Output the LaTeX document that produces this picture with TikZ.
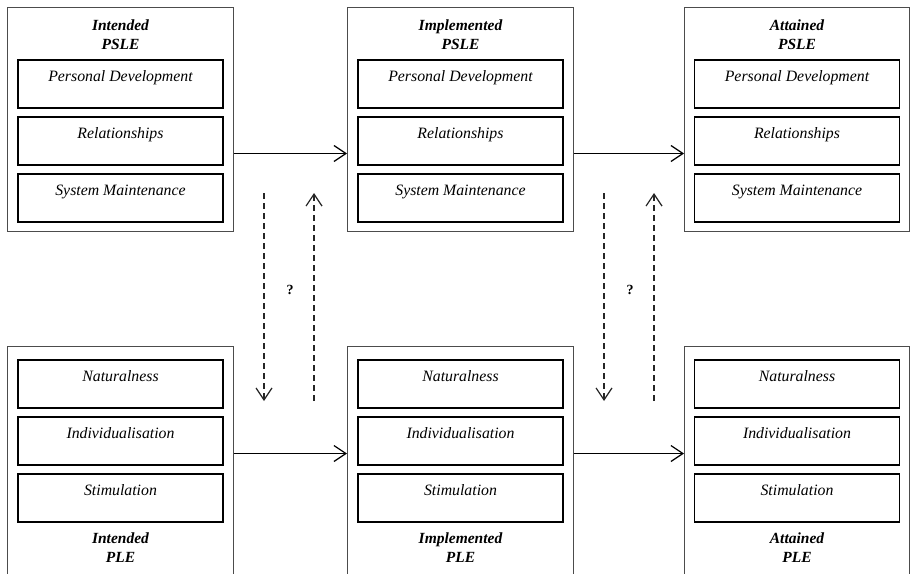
\documentclass[tikz,border=0pt]{standalone}
\usepackage{fontspec}
\setmainfont{Liberation Serif}
\usetikzlibrary{positioning, arrows.meta}

\begin{document}
\begin{tikzpicture}[
  x=1pt, y=-1pt,
  node distance=7pt,
  outer/.style={rectangle, draw=black!70, line width=1pt, minimum width=226pt, anchor=north west},
  dim/.style={rectangle, draw, line width=1.9pt, minimum width=205pt, inner ysep=3pt, text height=19pt, text depth=23pt, font=\fontsize{15.8}{18}\selectfont\itshape},
  title/.style={inner sep=0pt, align=center, font=\fontsize{15.5}{19}\selectfont\bfseries\itshape},
  arr/.style={-{Straight Barb[length=12pt, width=16pt]}, line width=1.2pt},
  darr/.style={-{Straight Barb[length=12pt, width=16pt]}, line width=1.2pt, draw=black!85, dash pattern=on 6pt off 4pt},
  qmark/.style={font=\fontsize{14}{16}\selectfont\bfseries}
]
\useasboundingbox (0,0) rectangle (910,573);

% PSLE row
\node[outer, minimum height=224pt] (ipsle) at (7,7) {};
\node[outer, minimum height=224pt] (mpsle) at (347,7) {};
\node[outer, minimum height=224pt, minimum width=225pt] (apsle) at (684,7) {};

\node[title, below=13pt of ipsle.north] (ipslet) {Intended\\PSLE};
\node[title, below=13pt of mpsle.north] (mpslet) {Implemented\\PSLE};
\node[title, below=13pt of apsle.north] (apslet) {Attained\\PSLE};

\node[dim, below=52pt of ipsle.north] (ipd) {Personal Development};
\node[dim, below=of ipd] (irel) {Relationships};
\node[dim, below=of irel] (isys) {System Maintenance};

\node[dim, below=52pt of mpsle.north] (mpd) {Personal Development};
\node[dim, below=of mpd] (mrel) {Relationships};
\node[dim, below=of mrel] (msys) {System Maintenance};

\node[dim, below=52pt of apsle.north] (apd) {Personal Development};
\node[dim, below=of apd] (arel) {Relationships};
\node[dim, below=of arel] (asys) {System Maintenance};

% PLE row
\node[outer, minimum height=254pt] (iple) at (7,346) {};
\node[outer, minimum height=254pt] (mple) at (347,346) {};
\node[outer, minimum height=254pt, minimum width=225pt] (aple) at (684,346) {};

\node[dim, below=13pt of iple.north] (inat) {Naturalness};
\node[dim, below=of inat] (iind) {Individualisation};
\node[dim, below=of iind] (istim) {Stimulation};
\node[title, below=10pt of istim] (iplet) {Intended\\PLE};

\node[dim, below=13pt of mple.north] (mnat) {Naturalness};
\node[dim, below=of mnat] (mind) {Individualisation};
\node[dim, below=of mind] (mstim) {Stimulation};
\node[title, below=10pt of mstim] (mplet) {Implemented\\PLE};

\node[dim, below=13pt of aple.north] (anat) {Naturalness};
\node[dim, below=of anat] (aind) {Individualisation};
\node[dim, below=of aind] (astim) {Stimulation};
\node[title, below=10pt of astim] (aplet) {Attained\\PLE};

% links
\draw[arr] ([yshift=-34pt]ipsle.east) -- ([yshift=-34pt]mpsle.west);
\draw[arr] ([yshift=-34pt]mpsle.east) -- ([yshift=-34pt]apsle.west);
\draw[arr] ([yshift=20pt]iple.east) -- ([yshift=20pt]mple.west);
\draw[arr] ([yshift=20pt]mple.east) -- ([yshift=20pt]aple.west);

\coordinate (d1a) at (264,193);
\coordinate (d1b) at (264,401);
\coordinate (u1a) at (314,401);
\coordinate (u1b) at (314,193);
\coordinate (d2a) at (604,193);
\coordinate (d2b) at (604,401);
\coordinate (u2a) at (654,401);
\coordinate (u2b) at (654,193);
\draw[darr] (d1a) -- (d1b);
\draw[darr] (u1a) -- (u1b);
\draw[darr] (d2a) -- (d2b);
\draw[darr] (u2a) -- (u2b);
\node[qmark] (q1) at (290,290) {?};
\node[qmark] (q2) at (630,290) {?};

\end{tikzpicture}
\end{document}
